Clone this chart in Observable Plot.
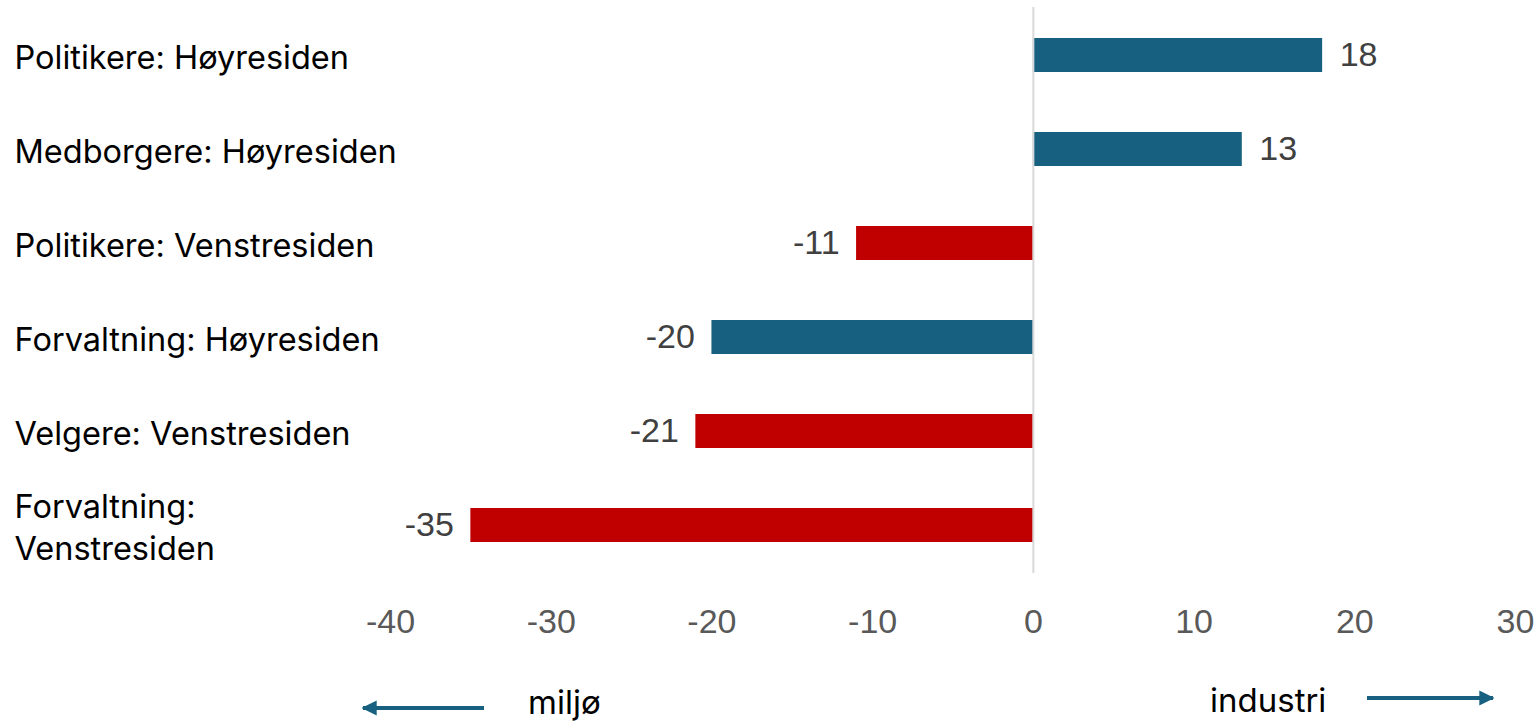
<!DOCTYPE html>
<html>
<head>
<meta charset="utf-8">
<script src="https://cdn.jsdelivr.net/npm/d3@7"></script>
<script src="https://cdn.jsdelivr.net/npm/@observablehq/plot@0.6"></script>
<style>
  html, body { margin: 0; padding: 0; background: #fff; }
  #chart { position: relative; width: 1540px; }
  #legend { position: relative; width: 1540px; height: 73px; }
</style>
</head>
<body>
<div id="chart"></div>
<div id="legend"></div>
<script>
const categories = [
  "Politikere: Høyresiden",
  "Medborgere: Høyresiden",
  "Politikere: Venstresiden",
  "Forvaltning: Høyresiden",
  "Velgere: Venstresiden",
  "Forvaltning: Venstresiden"
];
const values = [18, 13, -11, -20, -21, -35];
const sides = ["Høyresiden", "Høyresiden", "Venstresiden", "Høyresiden", "Venstresiden", "Venstresiden"];
const sideNames = ["Høyresiden", "Venstresiden"];
const sideColors = ["#17607f", "#c00000"];
const xTicks = [-40, -30, -20, -10, 0, 10, 20, 30];
const directionLabels = ["miljø", "industri"];

const data = categories.map((c, i) => ({category: c, value: values[i], side: sides[i]}));

const marginLeft = 390;
const labelFont = "Inter, 'Open Sans', sans-serif";
const numFont = "'Liberation Sans', Arial, sans-serif";

const chart = Plot.plot({
  width: 1540,
  height: 650,
  marginLeft,
  marginRight: 25,
  marginTop: 7,
  marginBottom: 77,
  x: {domain: [-40, 30], ticks: xTicks, label: null},
  y: {domain: categories, padding: 0, axis: null},
  color: {domain: sideNames, range: sideColors},
  style: {fontFamily: numFont, background: "#fff"},
  marks: [
    Plot.barX(data, {x: "value", y: "category", fill: "side", insetTop: 30, insetBottom: 30}),
    Plot.ruleX([0], {stroke: "#d9d9d9", strokeWidth: 2}),
    Plot.text(data.filter(d => d.value >= 0), {
      x: "value", y: "category", text: d => String(d.value),
      textAnchor: "start", dx: 17, fontSize: 34, fill: "#404040", fontFamily: numFont
    }),
    Plot.text(data.filter(d => d.value < 0), {
      x: "value", y: "category", text: d => String(d.value),
      textAnchor: "end", dx: -17, fontSize: 34, fill: "#404040", fontFamily: numFont
    }),
    Plot.text(data, {
      y: "category", frameAnchor: "left", textAnchor: "start", dx: 14 - marginLeft,
      text: d => d.category.length > 24 ? d.category.replace(": ", ":\n") : d.category,
      fontSize: 32.5, fill: "#000", fontFamily: labelFont, lineHeight: 1.3
    }),
    Plot.axisX({ticks: xTicks, tickFormat: d => String(d), tickSize: 0, tickPadding: 35,
      fontSize: 34, fill: "#595959", fontFamily: numFont, label: null})
  ]
});
document.getElementById("chart").appendChild(chart);

// Direction legend below the chart
const svg = d3.select("#legend").append("svg")
  .attr("width", 1540).attr("height", 73);
const arrowColor = "#17607f";
svg.append("defs").append("marker")
  .attr("id", "head").attr("viewBox", "0 0 10 10")
  .attr("refX", 9).attr("refY", 5)
  .attr("markerWidth", 3.8).attr("markerHeight", 4)
  .attr("markerUnits", "strokeWidth")
  .attr("orient", "auto")
  .append("path").attr("d", "M0,0L10,5L0,10Z").attr("fill", arrowColor);
// left arrow (miljø)
svg.append("line").attr("x1", 484).attr("y1", 58).attr("x2", 363).attr("y2", 58)
  .attr("stroke", arrowColor).attr("stroke-width", 4).attr("marker-end", "url(#head)");
svg.append("text").attr("x", 528).attr("y", 64)
  .attr("font-family", labelFont).attr("font-size", 33).attr("fill", "#000")
  .text(directionLabels[0]);
// right arrow (industri)
svg.append("line").attr("x1", 1367).attr("y1", 48).attr("x2", 1493).attr("y2", 48)
  .attr("stroke", arrowColor).attr("stroke-width", 4).attr("marker-end", "url(#head)");
svg.append("text").attr("x", 1210).attr("y", 62)
  .attr("font-family", labelFont).attr("font-size", 33).attr("fill", "#000")
  .text(directionLabels[1]);
</script>
</body>
</html>
